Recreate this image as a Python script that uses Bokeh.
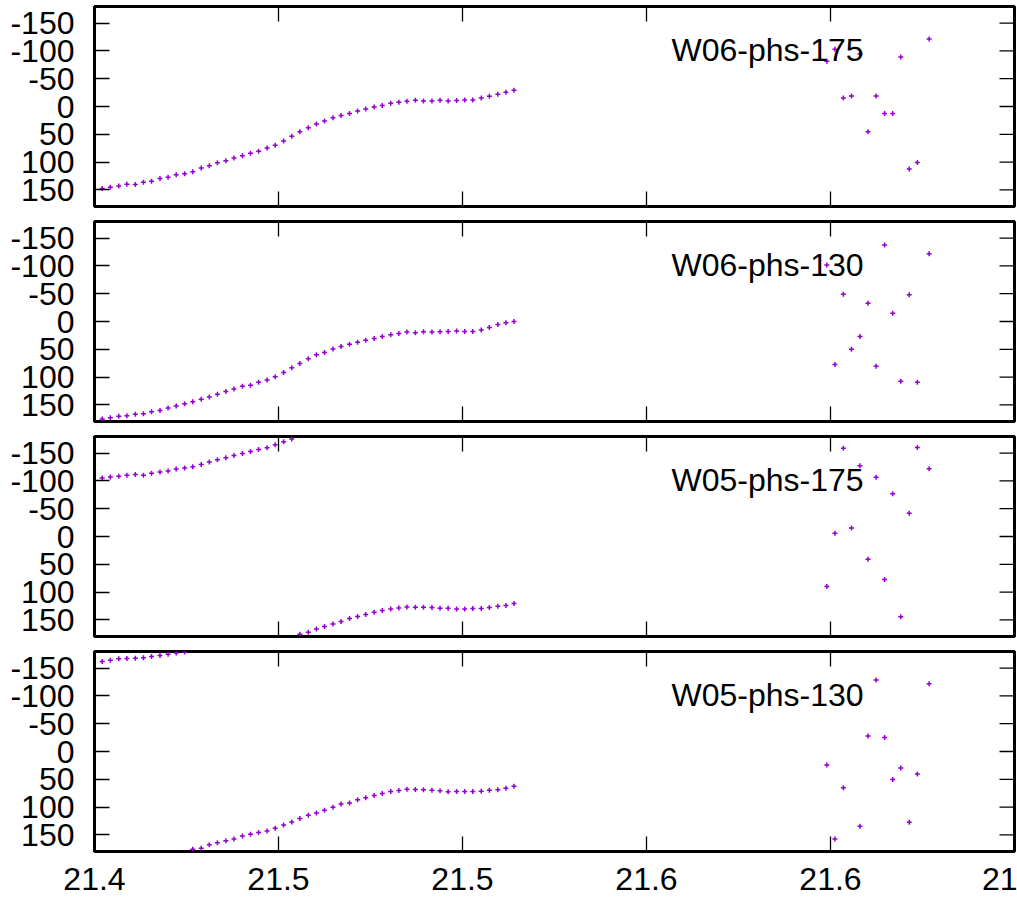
import math
from bokeh.plotting import figure
from bokeh.layouts import column
from bokeh.models import Range1d, FixedTicker, Label, LinearAxis, ColumnDataSource
from bokeh.embed import file_html
from bokeh.resources import INLINE

# ---- data -------------------------------------------------------------
freq = [21.4021, 21.4043, 21.4066, 21.4088, 21.4111, 21.4133, 21.4155, 21.4178, 21.4200, 21.4222,
        21.4245, 21.4267, 21.4290, 21.4312, 21.4334, 21.4357, 21.4379, 21.4402, 21.4424, 21.4446,
        21.4469, 21.4491, 21.4514, 21.4536, 21.4558, 21.4581, 21.4603, 21.4625, 21.4648, 21.4670,
        21.4693, 21.4715, 21.4737, 21.4760, 21.4782, 21.4805, 21.4827, 21.4849, 21.4872, 21.4894,
        21.4917, 21.4939, 21.4961, 21.4984, 21.5006, 21.5028, 21.5051, 21.5073, 21.5096, 21.5118,
        21.5140,
        21.5990, 21.6012, 21.6035, 21.6057, 21.6080, 21.6102, 21.6124, 21.6147, 21.6169, 21.6191,
        21.6214, 21.6236, 21.6268]

w06_phs_175 = [147.7, 145.3, 142.9, 140.0, 140.5, 136.4, 134.6, 129.8, 127.5, 122.7,
               120.9, 117.3, 110.7, 106.6, 101.3, 97.7, 92.9, 88.8, 84.0, 80.4,
               74.5, 69.6, 62.0, 53.6, 45.4, 38.2, 31.6, 26.3, 20.4, 16.1,
               12.5, 7.9, 4.3, 0.7, -1.8, -5.9, -7.7, -9.5, -11.3, -10.0,
               -10.0, -11.3, -10.0, -10.7, -11.8, -11.8, -15.4, -18.4, -22.0, -25.5,
               -29.1,
               -81.4, -102.9, -15.4, -18.9, -94.6, 45.4, -18.9, 12.5, 12.5, -89.3,
               112.5, 100.7, -121.4]

w06_phs_130 = [175.5, 173.2, 170.7, 169.6, 167.1, 166.0, 162.5, 160.0, 155.9, 152.3,
               148.2, 144.6, 139.8, 135.7, 130.9, 126.1, 121.4, 116.6, 114.8, 109.5,
               105.4, 99.3, 91.6, 83.2, 75.5, 67.1, 60.0, 55.9, 49.3, 45.2,
               41.1, 37.5, 33.9, 30.4, 26.8, 23.8, 21.4, 18.9, 20.2, 18.4,
               18.9, 18.4, 17.9, 17.1, 17.9, 17.9, 15.4, 10.7, 5.4, 2.3,
               0.0,
               -101.8, 77.3, -48.9, 50.0, 26.8, -32.9, 80.4, -137.5, -15.0, 107.7,
               -48.2, 109.5, -122.1]

w05_phs_175 = [-105.4, -107.1, -108.4, -110.2, -111.4, -110.2, -113.8, -116.1, -117.9, -121.4,
               -123.2, -125.7, -129.8, -133.9, -138.2, -141.8, -145.9, -149.5, -153.0, -156.6,
               -159.6, -165.0, -170.4, -175.7, 176.1, 172.5, 166.6, 161.8, 157.7, 152.9,
               147.5, 143.9, 140.4, 136.3, 133.2, 130.4, 128.6, 126.8, 127.3, 127.3,
               127.9, 129.1, 129.1, 130.4, 130.4, 129.6, 129.6, 127.9, 125.5, 124.3,
               120.7,
               89.8, -6.0, -159.0, -15.5, -127.5, 41.1, -106.6, 77.3, -76.8, 144.6,
               -41.8, -160.2, -122.1]

w05_phs_130 = [-162.0, -164.3, -166.8, -167.3, -167.9, -168.6, -170.9, -172.7, -175.0, -177.5,
               -179.3, 176.1, 174.3, 167.9, 164.3, 160.7, 157.7, 152.3, 148.8, 145.7,
               142.9, 138.0, 132.1, 126.8, 120.7, 114.8, 110.7, 105.9, 100.5, 94.6,
               92.9, 86.8, 83.2, 79.1, 75.5, 72.0, 70.2, 67.9, 68.4, 68.9,
               69.6, 70.7, 72.5, 72.0, 72.0, 72.0, 71.4, 69.6, 68.9, 66.1,
               62.5,
               24.3, 157.7, 65.4, -87.0, 134.5, -28.0, -128.6, -25.0, 50.5, 29.6,
               127.3, 40.4, -122.1]

panel_titles = ["W06-phs-175", "W06-phs-130", "W05-phs-175", "W05-phs-130"]
panel_series = [w06_phs_175, w06_phs_130, w05_phs_175, w05_phs_130]

x_ticks = [21.40, 21.45, 21.50, 21.55, 21.60, 21.65]
x_tick_labels = ["21.4", "21.5", "21.5", "21.6", "21.6", "21"]
y_ticks = [-150, -100, -50, 0, 50, 100, 150]
y_tick_labels = ["-150", "-100", "-50", "0", "50", "100", "150"]

X_START, X_END = 21.40, 21.65
Y_BOTTOM, Y_TOP = 180, -180

# ---- style ------------------------------------------------------------
FONT = "Liberation Sans"
FSIZE = "32px"
COLOR = "#9400d3"
WIDTH = 1017
TICK_LEN = 30  # dash marker centred on the frame edge -> 15 px visible inside


def make_panel(title, phases, height, top, bottom, show_x):
    p = figure(width=WIDTH, height=height, output_backend="svg", toolbar_location=None,
               x_range=Range1d(X_START, X_END), y_range=Range1d(Y_BOTTOM, Y_TOP),
               x_axis_location=None, y_axis_location="left",
               min_border_left=94, min_border_right=3,
               min_border_top=top, min_border_bottom=bottom)
    p.xgrid.visible = False
    p.ygrid.visible = False
    p.outline_line_color = "black"
    p.outline_line_width = 3
    p.background_fill_color = "white"
    p.border_fill_color = "white"

    # left axis (labelled, inward ticks)
    ly = p.yaxis[0]
    ly.ticker = FixedTicker(ticks=y_ticks)
    ly.major_label_overrides = dict(zip(y_ticks, y_tick_labels))
    ly.axis_line_color = None
    ly.major_tick_in = 15
    ly.major_tick_out = 0
    ly.minor_tick_in = 0
    ly.minor_tick_out = 0
    ly.major_tick_line_color = "black"
    ly.major_tick_line_width = 1.3
    ly.major_label_text_font = FONT
    ly.major_label_text_font_size = FSIZE
    ly.major_label_text_color = "black"
    ly.major_label_standoff = 20

    # mirrored inward ticks on the other three sides (clipped to the frame)
    n_x = len(x_ticks)
    p.scatter(x_ticks, [Y_TOP] * n_x, marker="dash", angle=math.pi / 2, size=TICK_LEN,
              line_color="black", line_width=1.3)
    p.scatter(x_ticks, [Y_BOTTOM] * n_x, marker="dash", angle=math.pi / 2, size=TICK_LEN,
              line_color="black", line_width=1.3)
    p.scatter([X_END] * len(y_ticks), y_ticks, marker="dash", size=TICK_LEN,
              line_color="black", line_width=1.3)

    src = ColumnDataSource(dict(x=freq, y=phases))
    p.scatter("x", "y", source=src, marker="cross", size=5,
              line_color=COLOR, line_width=1.5)

    p.add_layout(Label(x=21.6090, y=-101, text=title, text_align="right",
                       text_baseline="alphabetic", text_font=FONT,
                       text_font_size=FSIZE, text_color="black"))

    if show_x:
        bx = LinearAxis(ticker=FixedTicker(ticks=x_ticks))
        bx.major_label_overrides = dict(zip(x_ticks, x_tick_labels))
        bx.axis_line_color = None
        bx.major_tick_in = 0
        bx.major_tick_out = 0
        bx.minor_tick_in = 0
        bx.minor_tick_out = 0
        bx.major_label_text_font = FONT
        bx.major_label_text_font_size = FSIZE
        bx.major_label_text_color = "black"
        bx.major_label_text_line_height = 1.0
        bx.major_label_standoff = 16
        p.add_layout(bx, "below")
    return p


figs = [
    make_panel(panel_titles[0], panel_series[0], 213, 6, 7, False),
    make_panel(panel_titles[1], panel_series[1], 215, 8, 7, False),
    make_panel(panel_titles[2], panel_series[2], 215, 8, 7, False),
    make_panel(panel_titles[3], panel_series[3], 258, 8, 50, True),
]

layout = column(*figs, spacing=0)

with open("out.html", "w") as f:
    f.write(file_html(layout, INLINE))
